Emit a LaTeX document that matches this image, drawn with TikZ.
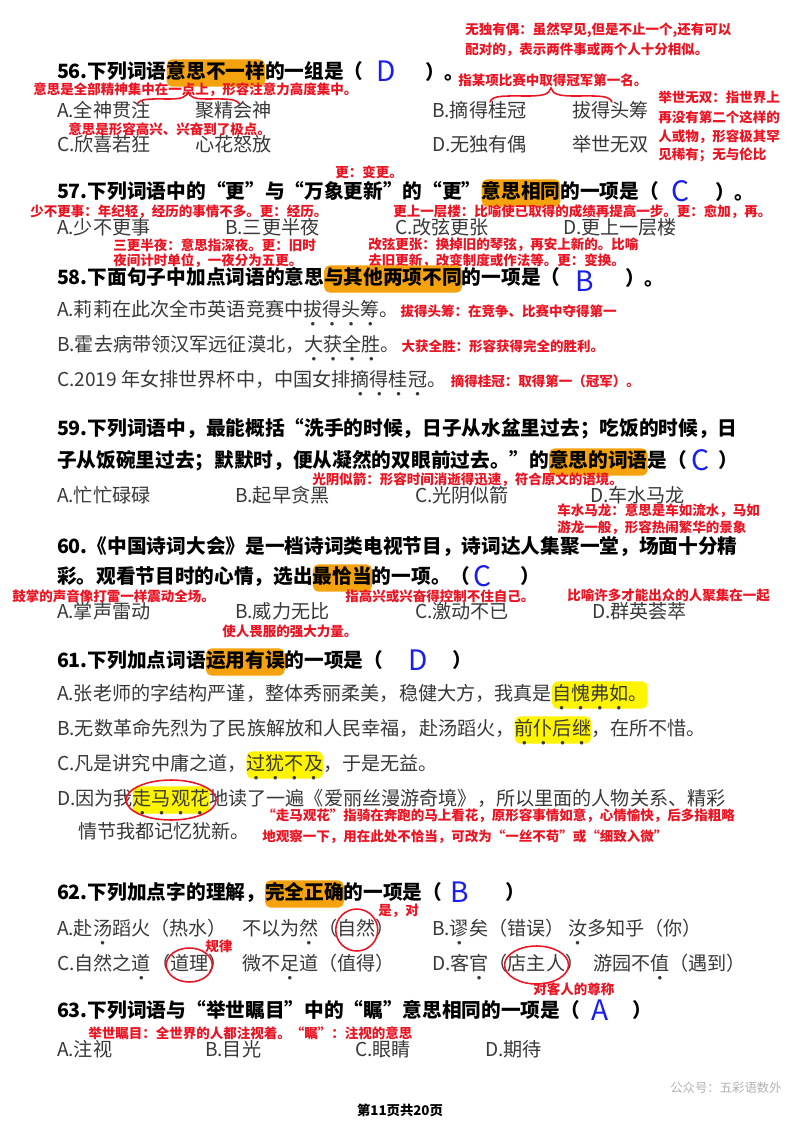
\documentclass[tikz,border=0pt]{standalone}
\usepackage{fontspec}
\setmainfont{Noto Sans CJK SC}
\usetikzlibrary{positioning}
\definecolor{penred}{RGB}{235,20,35}
\definecolor{penblue}{RGB}{25,30,235}
\definecolor{hlorange}{RGB}{245,162,15}
\definecolor{hlyellow}{RGB}{255,244,0}
\newcommand{\zd}[1]{\ooalign{#1\cr\hidewidth\smash{\raisebox{-0.5em}{\scalebox{0.45}{$\bullet$}}}\hidewidth\cr}}
\tikzset{
  base/.style={inner sep=0pt,outer sep=0pt,anchor=west,text height=11pt,text depth=2.5pt},
  ques/.style={base,font=\bfseries\fontsize{14}{16}\selectfont},
  opt/.style={base,font=\fontsize{13.6}{16}\selectfont,text=black!78},
  note/.style={inner sep=0pt,anchor=west,font=\bfseries\fontsize{9.6}{11}\selectfont,text=penred},
  ans/.style={inner sep=0pt,font=\fontsize{20}{20}\selectfont,text=penblue},
  hlo/.style={fill=hlorange,rounded corners=4pt,inner ysep=3pt},
  hly/.style={fill=hlyellow,rounded corners=4pt,inner ysep=3pt},
  ring/.style={draw=penred,line width=1.1pt},
  curl/.style={draw=penred,line width=1.1pt,line cap=round},
}
\begin{document}
\begin{tikzpicture}[x=0.025cm,y=-0.025cm]
\useasboundingbox[fill=white] (0,0) rectangle (800,1131);
%%%% 56
\node[note] (n56a) at (465,30) {无独有偶：虽然罕见,但是不止一个,还有可以};
\node[note] (n56b) at (465,50) {配对的，表示两件事或两个人十分相似。};
\node[ques] (q56) at (57,73) {56.下列词语};
\node[ques,hlo,right=0pt of q56] (q56h) {意思不一样};
\node[ques,right=0pt of q56h] (q56t) {的一组是（};
\node[ans] (q56a) at (386,71) {D};
\node[ques] (q56e) at (425,74) {）。};
\node[note] (n56c) at (458,80) {指某项比赛中取得冠军第一名。};
\node[note] (n56d) at (33,90) {意思是全部精神集中在一点上，形容注意力高度集中。};
\draw[curl] (137,105) .. controls (139,98) and (150,99) .. (170,99) .. controls (182,99) and (186,97) .. (188,92) .. controls (190,97) and (194,99) .. (206,99) .. controls (226,99) and (237,98) .. (240,105);
\draw[curl] (490,102) .. controls (492,95) and (505,96) .. (528,96) .. controls (544,96) and (549,94) .. (551,88) .. controls (553,94) and (558,96) .. (574,96) .. controls (598,96) and (609,95) .. (612,102);
\node[opt] (o56a) at (57,112) {A.全神贯注};
\node[opt] (o56b) at (195,112) {聚精会神};
\node[opt] (o56c) at (432,112) {B.摘得桂冠};
\node[opt] (o56d) at (572,112) {拔得头筹};
\node[note] (n56e) at (658,97) {举世无双：指世界上};
\node[note] (n56f) at (658,117) {再没有第二个这样的};
\node[note] (n56g) at (658,137) {人或物，形容极其罕};
\node[note] (n56h) at (658,155) {见稀有；无与伦比};
\node[note] (n56i) at (68,129) {意思是形容高兴、兴奋到了极点。};
\node[opt] (o56e) at (57,146) {C.欣喜若狂};
\node[opt] (o56f) at (195,146) {心花怒放};
\node[opt] (o56g) at (432,146) {D.无独有偶};
\node[opt] (o56h) at (572,146) {举世无双};
%%%% 57
\node[note] (n57a) at (335,172) {更：变更。};
\node[ques] (q57) at (57,193) {57.下列词语中的“更”与“万象更新”的“更”};
\node[ques,hlo,right=0pt of q57] (q57h) {意思相同};
\node[ques,right=0pt of q57h] (q57t) {的一项是（};
\node[ans] (q57a) at (680,191) {C};
\node[ques] (q57e) at (715,194) {）。};
\node[note] (n57b) at (30,212) {少不更事：年纪轻，经历的事情不多。更：经历。};
\node[note] (n57c) at (393,212) {更上一层楼：比喻使已取得的成绩再提高一步。更：愈加，再。};
\node[opt] (o57a) at (57,229) {A.少不更事};
\node[opt] (o57b) at (225,229) {B.三更半夜};
\node[opt] (o57c) at (395,229) {C.改弦更张};
\node[opt] (o57d) at (563,229) {D.更上一层楼};
\node[note] (n57d) at (113,245) {三更半夜：意思指深夜。更：旧时};
\node[note] (n57e) at (113,261) {夜间计时单位，一夜分为五更。};
\node[note] (n57f) at (368,245) {改弦更张：换掉旧的琴弦，再安上新的。比喻};
\node[note] (n57g) at (368,261) {去旧更新，改变制度或作法等。更：变换。};
%%%% 58
\node[ques] (q58) at (57,279) {58.下面句子中加点词语的意思};
\node[ques,hlo,right=0pt of q58] (q58h) {与其他两项不同};
\node[ques,right=0pt of q58h] (q58t) {的一项是（};
\node[ans] (q58a) at (585,281) {B};
\node[ques] (q58e) at (625,280) {）。};
\node[opt] (o58a) at (57,311) {A.莉莉在此次全市英语竞赛中\zd{拔}\zd{得}\zd{头}\zd{筹}。};
\node[note,right=1pt of o58a] (n58a) {拔得头筹：在竞争、比赛中夺得第一};
\node[opt] (o58b) at (57,346) {B.霍去病带领汉军远征漠北，\zd{大}\zd{获}\zd{全}\zd{胜}。};
\node[note,right=1pt of o58b] (n58b) {大获全胜：形容获得完全的胜利。};
\node[opt] (o58c) at (57,381) {C.2019 年女排世界杯中，中国女排\zd{摘}\zd{得}\zd{桂}\zd{冠}。};
\node[note,right=3pt of o58c] (n58c) {摘得桂冠：取得第一（冠军）。};
%%%% 59
\node[ques] (q59) at (57,430) {59.下列词语中，最能概括“洗手的时候，日子从水盆里过去；吃饭的时候，日};
\node[ques] (q59b) at (57,462) {子从饭碗里过去；默默时，便从凝然的双眼前过去。”的};
\node[ques,hlo,right=0pt of q59b] (q59h) {意思的词语};
\node[ques,right=0pt of q59h] (q59t) {是（};
\node[ans] (q59a) at (700,460) {C};
\node[ques] (q59e) at (718,462) {）};
\node[note] (n59a) at (312,480) {光阴似箭：形容时间消逝得迅速，符合原文的语境。};
\node[opt] (o59a) at (57,497) {A.忙忙碌碌};
\node[opt] (o59b) at (235,497) {B.起早贪黑};
\node[opt] (o59c) at (415,497) {C.光阴似箭};
\node[opt] (o59d) at (590,497) {D.车水马龙};
\node[note] (n59b) at (557,511) {车水马龙：意思是车如流水，马如};
\node[note] (n59c) at (557,528) {游龙一般，形容热闹繁华的景象};
%%%% 60
\node[ques] (q60) at (57,548) {60.《中国诗词大会》是一档诗词类电视节目，诗词达人集聚一堂，场面十分精};
\node[ques] (q60b) at (57,578) {彩。观看节目时的心情，选出};
\node[ques,hlo,right=0pt of q60b] (q60h) {最恰当};
\node[ques,right=0pt of q60h] (q60t) {的一项。（};
\node[ans] (q60a) at (482,576) {C};
\node[ques] (q60e) at (520,578) {）};
\node[note] (n60a) at (12,596) {鼓掌的声音像打雷一样震动全场。};
\node[note] (n60b) at (345,596) {指高兴或兴奋得控制不住自己。};
\node[note] (n60c) at (567,595) {比喻许多才能出众的人聚集在一起};
\node[opt] (o60a) at (57,613) {A.掌声雷动};
\node[opt] (o60b) at (235,613) {B.威力无比};
\node[opt] (o60c) at (415,613) {C.激动不已};
\node[opt] (o60d) at (592,613) {D.群英荟萃};
\node[note] (n60d) at (222,631) {使人畏服的强大力量。};
%%%% 61
\node[ques] (q61) at (57,662) {61.下列加点词语};
\node[ques,hlo,right=0pt of q61] (q61h) {运用有误};
\node[ques,right=0pt of q61h] (q61t) {的一项是（};
\node[ans] (q61a) at (418,660) {D};
\node[ques] (q61e) at (452,662) {）};
\node[opt] (o61a) at (57,695) {A.张老师的字结构严谨，整体秀丽柔美，稳健大方，我真是};
\node[opt,hly,right=0pt of o61a] (o61ah) {\zd{自}\zd{愧}\zd{弗}\zd{如}。};
\node[opt] (o61b) at (57,730) {B.无数革命先烈为了民族解放和人民幸福，赴汤蹈火，};
\node[opt,hly,right=0pt of o61b] (o61bh) {\zd{前}\zd{仆}\zd{后}\zd{继}};
\node[opt,right=0pt of o61bh] (o61bt) {，在所不惜。};
\node[opt] (o61c) at (57,765) {C.凡是讲究中庸之道，};
\node[opt,hly,right=0pt of o61c] (o61ch) {\zd{过}\zd{犹}\zd{不}\zd{及}};
\node[opt,right=0pt of o61ch] (o61ct) {，于是无益。};
\node[opt] (o61d) at (57,800) {D.因为我};
\node[opt,hly,right=0pt of o61d] (o61dh) {\zd{走}\zd{马}\zd{观}\zd{花}};
\node[opt,right=0pt of o61dh] (o61dt) {地读了一遍《爱丽丝漫游奇境》，所以里面的人物关系、精彩};
\draw[ring] (o61dh.center) ellipse [x radius=45,y radius=20];
\node[opt] (o61e) at (78,833) {情节我都记忆犹新。};
\node[note] (n61a) at (262,816) {“走马观花”指骑在奔跑的马上看花，原形容事情如意，心情愉快，后多指粗略};
\node[note] (n61b) at (262,837) {地观察一下，用在此处不恰当，可改为“一丝不苟”或“细致入微”};
%%%% 62
\node[ques] (q62) at (57,894) {62.下列加点字的理解，};
\node[ques,hlo,right=0pt of q62] (q62h) {完全正确};
\node[ques,right=0pt of q62h] (q62t) {的一项是（};
\node[ans] (q62a) at (460,892) {B};
\node[ques] (q62e) at (505,894) {）};
\node[note] (n62a) at (378,911) {是，对};
\node[opt] (o62a) at (57,930) {A.赴\zd{汤}蹈火（热水）};
\node[opt] (o62b) at (242,930) {不以为\zd{然}（};
\node[opt,right=0pt of o62b] (o62bh) {自然};
\node[opt,right=0pt of o62bh] (o62bt) {）};
\draw[ring] (o62bh.center) ellipse [x radius=21,y radius=21];
\node[opt] (o62c) at (432,930) {B.\zd{谬}矣（错误）};
\node[opt] (o62d) at (568,930) {\zd{汝}多知乎（你）};
\node[note] (n62b) at (205,946) {规律};
\node[opt] (o62e) at (57,965) {C.自然之\zd{道}（};
\node[opt,right=0pt of o62e] (o62eh) {道理};
\node[opt,right=0pt of o62eh] (o62et) {）};
\draw[ring] (o62eh.center) ellipse [x radius=23,y radius=17];
\node[opt] (o62f) at (242,965) {微不\zd{足}道（值得）};
\node[opt] (o62g) at (432,965) {D.客\zd{官}（};
\node[opt,right=0pt of o62g] (o62gh) {店主人};
\node[opt,right=0pt of o62gh] (o62gt) {）};
\draw[ring] (o62gh.center) ellipse [x radius=32,y radius=19];
\node[opt] (o62h) at (593,965) {游园不\zd{值}（遇到）};
\node[note] (n62c) at (533,989) {对客人的尊称};
%%%% 63
\node[ques] (q63) at (57,1012) {63.下列词语与“举世瞩目”中的“瞩”意思相同的一项是（};
\node[ans] (q63a) at (600,1010) {A};
\node[ques] (q63e) at (632,1012) {）};
\node[note] (n63a) at (88,1033) {举世瞩目：全世界的人都注视着。“瞩”：注视的意思};
\node[opt] (o63a) at (57,1051) {A.注视};
\node[opt] (o63b) at (205,1051) {B.目光};
\node[opt] (o63c) at (355,1051) {C.眼睛};
\node[opt] (o63d) at (485,1051) {D.期待};
%%%%
\node[inner sep=0pt,anchor=west,font=\fontsize{8.8}{10}\selectfont,text=black!30] (mark) at (670,1088) {公众号：五彩语数外};
\node[inner sep=0pt,font=\bfseries\fontsize{9.5}{11}\selectfont] (page) at (400,1110) {第11页共20页};
\end{tikzpicture}
\end{document}
